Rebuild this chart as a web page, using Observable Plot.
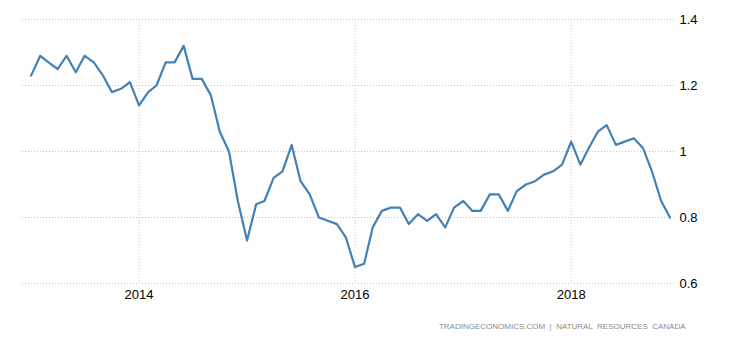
<!DOCTYPE html>
<html><head><meta charset="utf-8">
<script src="https://cdn.jsdelivr.net/npm/d3@7"></script>
<script src="https://cdn.jsdelivr.net/npm/@observablehq/plot@0.6"></script>
<style>body{margin:0;background:#fff;}</style>
</head><body><div id="chart"></div>
<script>
// Monthly values, January .. December
const years = [2013, 2014, 2015, 2016, 2017, 2018];
const v2013 = [1.23, 1.29, 1.27, 1.25, 1.29, 1.24, 1.29, 1.27, 1.23, 1.18, 1.19, 1.21];
const v2014 = [1.14, 1.18, 1.20, 1.27, 1.27, 1.32, 1.22, 1.22, 1.17, 1.06, 1.00, 0.85];
const v2015 = [0.73, 0.84, 0.85, 0.92, 0.94, 1.02, 0.91, 0.87, 0.80, 0.79, 0.78, 0.74];
const v2016 = [0.65, 0.66, 0.77, 0.82, 0.83, 0.83, 0.78, 0.81, 0.79, 0.81, 0.77, 0.83];
const v2017 = [0.85, 0.82, 0.82, 0.87, 0.87, 0.82, 0.88, 0.90, 0.91, 0.93, 0.94, 0.96];
const v2018 = [1.03, 0.96, 1.01, 1.06, 1.08, 1.02, 1.03, 1.04, 1.01, 0.94, 0.85, 0.80];
const series = [v2013, v2014, v2015, v2016, v2017, v2018];

const yTicks = [0.6, 0.8, 1, 1.2, 1.4];
const xTickYears = [2014, 2016, 2018];
const source = "TRADINGECONOMICS.COM  |  NATURAL  RESOURCES  CANADA";

const data = [];
years.forEach((yr, k) => series[k].forEach((v, m) => data.push({date: new Date(Date.UTC(yr, m, 1)), value: v})));
const xTicks = xTickYears.map(y => new Date(Date.UTC(y, 0, 1)));

const grid = {stroke: "#c4c4c4", strokeOpacity: 1, strokeDasharray: "1,2", strokeWidth: 1};

const chart = Plot.plot({
  width: 730, height: 340,
  marginLeft: 22, marginRight: 54, marginTop: 19, marginBottom: 57,
  style: {fontFamily: "'Liberation Sans', Arial, sans-serif", fontSize: "13px", color: "#000", background: "#fff"},
  x: {type: "utc", domain: [new Date(Date.UTC(2012, 11, 3)), new Date(Date.UTC(2018, 11, 23))]},
  y: {domain: [0.6, 1.4]},
  marks: [
    Plot.gridY(yTicks, grid),
    Plot.gridX(xTicks, grid),
    Plot.axisY(yTicks, {anchor: "right", tickSize: 0, tickPadding: 3, tickFormat: d => String(d), label: null}),
    Plot.axisX(xTicks, {anchor: "bottom", tickSize: 0, tickPadding: 6, tickFormat: d3.utcFormat("%Y"), label: null}),
    Plot.lineY(data, {x: "date", y: "value", stroke: "#4281b7", strokeWidth: 2.2}),
    Plot.text([source], {frameAnchor: "bottom-right", text: d => d, dx: 9, dy: 45, lineAnchor: "bottom", textAnchor: "end", fontSize: 8, fill: "#8a8a8a"})
  ]
});
document.getElementById("chart").append(chart);
</script>
</body></html>
